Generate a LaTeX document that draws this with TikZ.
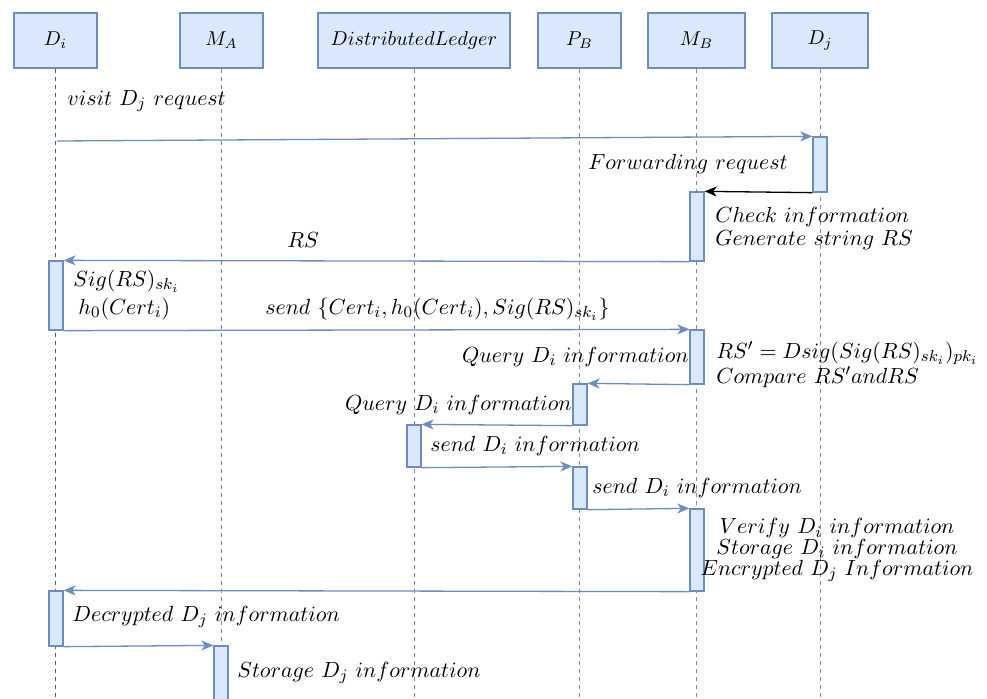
\documentclass[tikz,border=0pt]{standalone}
\usetikzlibrary{arrows.meta}
\definecolor{dBlue}{HTML}{6C8EBF}
\definecolor{dFill}{HTML}{DAE8FC}
\definecolor{dDark}{HTML}{4F5F7F}
\begin{document}
\begin{tikzpicture}[x=0.5pt,y=-0.5pt,
 hdr/.style={draw=dBlue, fill=dFill, line width=0.65pt, minimum height=27.5pt, inner sep=0pt, font=\fontsize{10}{12}\selectfont},
 act/.style={draw=dBlue, fill=dFill, line width=0.65pt, minimum width=7pt, inner sep=0pt},
 life/.style={draw=dBlue, dash pattern=on 2pt off 2pt, line width=0.5pt},
 msg/.style={draw=dBlue, line width=0.65pt, -{Stealth[length=6pt,width=5pt,inset=1.75pt]}},
 lbl/.style={inner sep=0pt, font=\fontsize{10.95}{12}\selectfont},
]
\useasboundingbox (0,0) rectangle (987,698);
\fill[white] (0,0) rectangle (987,698);

% headers
\node[hdr, minimum width=41.5pt] (hDi) at (55.5,40.5) {$D_i$};
\node[hdr, minimum width=41.5pt] (hMA) at (221.5,40.5) {$M_A$};
\node[hdr, minimum width=96pt] (hDL) at (414,40.5) {$DistributedLedger$};
\node[hdr, minimum width=41.5pt] (hPB) at (579.5,40.5) {$P_B$};
\node[hdr, minimum width=48.5pt] (hMB) at (696.5,40.5) {$M_B$};
\node[hdr, minimum width=48pt] (hDj) at (820,40.5) {$D_j$};

% lifeline ends
\coordinate (eDi) at (55.5,700);
\coordinate (eMA) at (221.5,700);
\coordinate (eDL) at (414,700);
\coordinate (ePB) at (579.5,700);
\coordinate (eMB) at (696.5,700);
\coordinate (eDj) at (820,700);

\draw[life, draw=dDark, line width=0.65pt] (hDi.south) -- (eDi);
\draw[life] (hMA.south) -- (eMA);
\draw[life] (hDL.south) -- (eDL);
\draw[life] (hPB.south) -- (ePB);
\draw[life] (hMB.south) -- (eMB);
\draw[life] (hDj.south) -- (eDj);

% activations
\node[act, minimum height=27.5pt] (aDj1) at (820,164.5) {};
\node[act, minimum height=34.5pt] (aMB1) at (697,226.5) {};
\node[act, minimum height=34.5pt] (aDi1) at (56,295.5) {};
\node[act, minimum height=27pt] (aMB2) at (697,357) {};
\node[act, minimum height=20.5pt] (aPB1) at (580,404.5) {};
\node[act, minimum height=21pt] (aDL) at (414,446) {};
\node[act, minimum height=21pt] (aPB2) at (580,488) {};
\node[act, minimum height=41pt] (aMB3) at (697,550) {};
\node[act, minimum height=27.5pt] (aDi2) at (56,618.5) {};
\node[act, minimum height=28pt] (aMA) at (221,674) {};

% messages
\coordinate (sDi) at (57,141);
\draw[msg] (sDi) -- (aDj1.north west);
\draw[msg, draw=black] (aDj1.south west) -- (aMB1.north east);
\draw[msg] (aMB1.south west) -- (aDi1.north east);
\draw[msg] (aDi1.south east) -- (aMB2.north west);
\draw[msg] (aMB2.south west) -- (aPB1.north east);
\draw[msg] (aPB1.south west) -- (aDL.north east);
\draw[msg] (aDL.south east) -- (aPB2.north west);
\draw[msg] (aPB2.south east) -- (aMB3.north west);
\draw[msg] (aMB3.south west) -- (aDi2.north east);
\draw[msg] (aDi2.south east) -- (aMA.north west);

% labels
\node[lbl, anchor=west] (t1) at (67,101) {$visit\ D_j\ request$};
\node[lbl, anchor=east] (t2) at (788,164) {$Forwarding\ request$};
\node[lbl, anchor=west] (t3) at (715,217) {$Check\ information$};
\node[lbl, anchor=west] (t4) at (715,240) {$Generate\ string\ RS$};
\node[lbl] (t5) at (303,240) {$RS$};
\node[lbl, anchor=west] (t6) at (73,281) {$Sig(RS)_{sk_i}$};
\node[lbl, anchor=west] (t7) at (78,309) {$h_0(Cert_i)$};
\node[lbl, anchor=west] (t8) at (265,309) {$send\ \{Cert_i,h_0(Cert_i),Sig(RS)_{sk_i}\}$};
\node[lbl, anchor=west] (t9) at (716,353) {$RS'=Dsig(Sig(RS)_{sk_i})_{pk_i}$};
\node[lbl, anchor=west] (t10) at (716,377) {$Compare\ RS'andRS$};
\node[lbl, anchor=east] (t11) at (689,357) {$Query\ D_i\ information$};
\node[lbl, anchor=east] (t12) at (572,405) {$Query\ D_i\ information$};
\node[lbl, anchor=west] (t13) at (430,446) {$send\ D_i\ information$};
\node[lbl, anchor=west] (t14) at (592,488) {$send\ D_i\ information$};
\node[lbl, align=center, font=\fontsize{10.95}{10.3}\selectfont] (t15) at (837,550)
  {$Verify\ D_i\ information$\\$Storage\ D_i\ information$\\$Encrypted\ D_j\ Information$};
\node[lbl, anchor=west] (t18) at (72,617) {$Decrypted\ D_j\ information$};
\node[lbl, anchor=west] (t19) at (237,673) {$Storage\ D_j\ information$};
\end{tikzpicture}
\end{document}
